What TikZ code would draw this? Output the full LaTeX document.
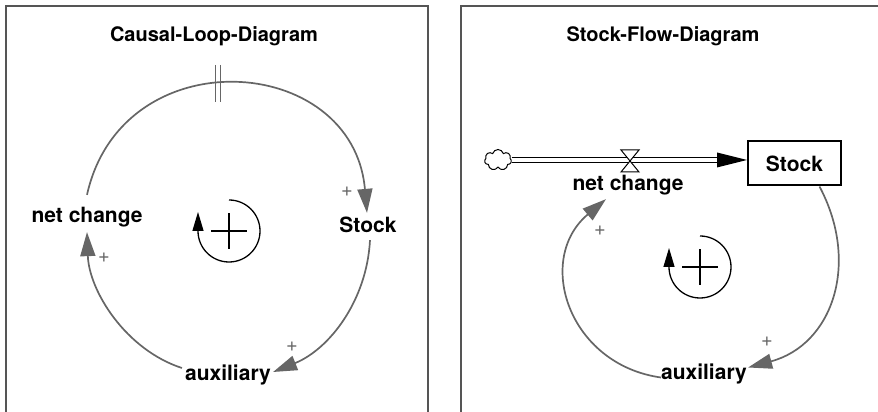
\documentclass[tikz,border=0pt]{standalone}
\usepackage{fontspec}
\setmainfont{TeX Gyre Heros}
\usetikzlibrary{arrows.meta,shapes.symbols}
\definecolor{CLDLinkColor}{RGB}{102,102,102}
\definecolor{CLDFrameColor}{RGB}{85,85,85}

\begin{document}
\begin{tikzpicture}[x=1pt,y=1pt,
  frame/.style={CLDFrameColor,line width=1.5pt},
  ttl/.style={font=\bfseries\fontsize{20}{24}\selectfont,inner sep=0pt},
  lbl/.style={font=\bfseries\fontsize{21}{24}\selectfont,inner sep=0pt},
  pol/.style={CLDLinkColor,font=\fontsize{20}{20}\selectfont,inner sep=0pt},
  link/.style={CLDLinkColor,line width=1.7pt,-{Triangle[length=24pt,width=15pt]}},
  delay/.style={CLDLinkColor,line width=1.1pt},
  loopsym/.style={black,line width=1.3pt},
  looparrow/.style={loopsym,-{Triangle[length=19pt,width=11pt]}},
  pipe/.style={double,double distance=4pt,line width=1.1pt,shorten >=28pt},
  stockbox/.style={draw,line width=2pt,minimum width=93pt,minimum height=44pt,inner sep=0pt,font=\bfseries\fontsize{21}{24}\selectfont},
  source/.style={cloud,cloud puffs=7,draw,fill=white,line width=1pt,minimum width=27pt,minimum height=21pt,inner sep=0pt}]
\useasboundingbox (0,0) rectangle (878,412);
% frames
\draw[frame] (6,0) -- (6,406) -- (428,406) -- (428,0);
\draw[frame] (461,0) -- (461,406) -- (878,406);

% causal loop diagram
\node[ttl] (clTitle) at (214,376) {Causal-Loop-Diagram};
\node[lbl] (clNet) at (87,195) {net change};
\node[lbl] (clStock) at (368,187) {Stock};
\node[lbl] (clAux) at (228,37) {auxiliary};
\coordinate (clLoop) at (229,181);
\draw[link] ([yshift=12pt]clNet.north) to[out=77.5,in=95,looseness=1.47] ([xshift=-1pt,yshift=4pt]clStock.north);
\draw[link] ([xshift=2pt,yshift=-7pt]clStock.south) to[out=-93,in=22,looseness=0.95] ([xshift=2pt,yshift=3pt]clAux.east);
\draw[link] ([xshift=-3pt,yshift=7pt]clAux.west) to[out=162,in=-88,looseness=0.91] ([yshift=-5pt]clNet.south);
\draw[delay] (215.5,347) -- (215.5,310) (220.5,347) -- (220.5,310);
\node[pol] (clP1) at (347,220) {+};
\node[pol] (clP2) at (292,65) {+};
\node[pol] (clP3) at (104,154) {+};
\draw[looparrow] (clLoop) ++(0,31) arc[start angle=90,end angle=-180,radius=31] -- ++(0,19);
\draw[loopsym] (clLoop) ++(-18,0) -- ++(36,0) (clLoop) ++(0,-18) -- ++(0,36);

% stock flow diagram
\node[ttl] (sfTitle) at (663,376) {Stock-Flow-Diagram};
\node[source] (sfCloud) at (498,252) {};
\node[stockbox] (sfStock) at (794.5,248.5) {Stock};
\coordinate (sfValve) at (630,251);
\coordinate (sfEnd) at (sfStock.west |- sfCloud.east);
\draw[pipe] (sfCloud.east) -- (sfEnd);
\fill (sfEnd) -- ++(-30,7.5) -- ++(0,-15) -- cycle;
\filldraw[fill=white,line width=1pt] (sfValve) ++(-9,11) -- ++(18,0) -- ++(-18,-22) -- ++(18,0) -- cycle;
\node[lbl] (sfNet) at (628,227) {net change};
\node[lbl] (sfAux) at (704,38.5) {auxiliary};
\coordinate (sfLoop) at (700,145);
\draw[link] ([xshift=25pt]sfStock.south) to[out=-62,in=15,looseness=1.15] ([xshift=1pt,yshift=6pt]sfAux.east);
\draw[link] ([yshift=-4pt]sfAux.west) to[out=172,in=220,looseness=1.28] ([xshift=-22pt,yshift=-4pt]sfNet.south);
\node[pol] (sfP1) at (767,70) {+};
\node[pol] (sfP2) at (600,181) {+};
\draw[looparrow] (sfLoop) ++(0,31) arc[start angle=90,end angle=-180,radius=31] -- ++(0,19);
\draw[loopsym] (sfLoop) ++(-18,0) -- ++(36,0) (sfLoop) ++(0,-18) -- ++(0,36);
\end{tikzpicture}
\end{document}
